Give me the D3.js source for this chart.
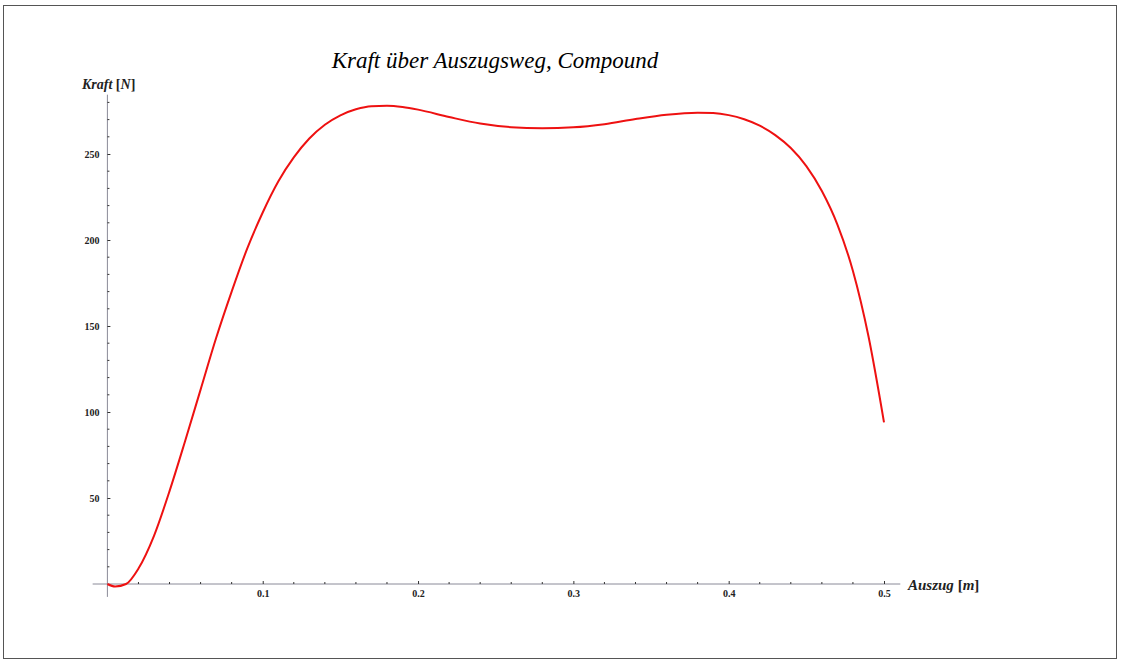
<!DOCTYPE html>
<html>
<head>
<meta charset="utf-8">
<script src="https://cdn.jsdelivr.net/npm/d3@7"></script>
<style>
  body { margin: 0; background: #fff; }
  svg { display: block; }
  .tick text { font-family: "Liberation Serif", "DejaVu Serif", serif; font-weight: bold; font-size: 10px; fill: #222; }
</style>
</head>
<body>
<svg id="chart" width="1121" height="664"></svg>
<script>
// Auszug [m] und Kraft [N]
var auszug = [0, 0.005, 0.012, 0.02, 0.03, 0.04, 0.05, 0.06, 0.07, 0.08, 0.09, 0.1, 0.11, 0.12, 0.13, 0.14, 0.15, 0.16, 0.17, 0.18, 0.19, 0.2, 0.22, 0.24, 0.26, 0.28, 0.3, 0.32, 0.34, 0.36, 0.38, 0.39, 0.4, 0.41, 0.42, 0.43, 0.44, 0.45, 0.46, 0.47, 0.48, 0.49, 0.5];
var kraft = [0, -1.5, 0, 9, 28, 54, 83, 113, 143, 170, 195, 216, 234, 248, 259, 267, 272.5, 276, 277.8, 278, 277.3, 275.8, 271.5, 267.7, 265.6, 265, 265.5, 267.3, 270.3, 272.8, 274, 273.8, 272.6, 270.2, 266.5, 261, 253.5, 243, 228.5, 209, 182, 144, 94];

var xTicks = [0.1, 0.2, 0.3, 0.4, 0.5];
var yTicks = [50, 100, 150, 200, 250];

var data = auszug.map(function (d, i) { return { x: d, y: kraft[i] } });

var svg = d3.select("#chart");

// Rahmen
svg.append("rect")
  .attr("x", 3.5).attr("y", 5.5)
  .attr("width", 1113).attr("height", 653)
  .attr("fill", "none")
  .attr("stroke", "#555");

var x = d3.scaleLinear().domain([0, 0.5]).range([107.4, 884]);
var y = d3.scaleLinear().domain([0, 250]).range([584, 154]);

var axisCol = "#8a8a98";

// x-Achse
var gx = svg.append("g").attr("transform", "translate(0," + y(0) + ")");
gx.append("line")
  .attr("x1", x(-0.0095)).attr("x2", x(0.5105))
  .attr("stroke", axisCol);
gx.selectAll(".minor")
  .data(d3.range(0.02, 0.51, 0.02).filter(function (d) { return Math.abs(d * 10 - Math.round(d * 10)) > 1e-6 }))
  .join("line")
  .attr("x1", d => x(d)).attr("x2", d => x(d))
  .attr("y1", 0).attr("y2", -2)
  .attr("stroke", "#333");
gx.call(d3.axisBottom(x).tickValues(xTicks).tickSize(-3).tickPadding(6).tickFormat(d3.format(".1f")))
  .call(g => g.select(".domain").remove())
  .call(g => g.selectAll(".tick line").attr("stroke", "#333"));

// y-Achse
var gy = svg.append("g").attr("transform", "translate(" + x(0) + ",0)");
gy.append("line")
  .attr("y1", y(-7.5)).attr("y2", y(284.5))
  .attr("stroke", axisCol);
gy.selectAll(".minor")
  .data(d3.range(10, 281, 10).filter(function (d) { return d % 50 != 0 }))
  .join("line")
  .attr("y1", d => y(d)).attr("y2", d => y(d))
  .attr("x1", 0).attr("x2", 2)
  .attr("stroke", "#333");
gy.call(d3.axisLeft(y).tickValues(yTicks).tickSize(-3).tickPadding(8))
  .call(g => g.select(".domain").remove())
  .call(g => g.selectAll(".tick line").attr("stroke", "#333"));

// Kurve
var line = d3.line()
  .x(d => x(d.x))
  .y(d => y(d.y))
  .curve(d3.curveMonotoneX);

svg.append("path")
  .datum(data)
  .attr("d", line)
  .attr("fill", "none")
  .attr("stroke", "#ee1111")
  .attr("stroke-width", 2);

// Titel und Achsenbeschriftungen
var serif = "'Liberation Serif', 'DejaVu Serif', serif";
svg.append("text")
  .attr("x", 495).attr("y", 68)
  .attr("text-anchor", "middle")
  .style("font-family", serif)
  .style("font-style", "italic")
  .style("font-size", "23px")
  .text("Kraft über Auszugsweg, Compound");

var ylab = svg.append("text")
  .attr("x", 82).attr("y", 89)
  .style("font-family", serif)
  .style("font-weight", "bold")
  .style("font-size", "14px")
  .attr("fill", "#222");
ylab.append("tspan").style("font-style", "italic").text("Kraft ");
ylab.append("tspan").text("[");
ylab.append("tspan").style("font-style", "italic").text("N");
ylab.append("tspan").text("]");

var xlab = svg.append("text")
  .attr("x", 908).attr("y", 590)
  .style("font-family", serif)
  .style("font-weight", "bold")
  .style("font-size", "15px")
  .attr("fill", "#222");
xlab.append("tspan").style("font-style", "italic").text("Auszug ");
xlab.append("tspan").text("[");
xlab.append("tspan").style("font-style", "italic").text("m");
xlab.append("tspan").text("]");
</script>
</body>
</html>
